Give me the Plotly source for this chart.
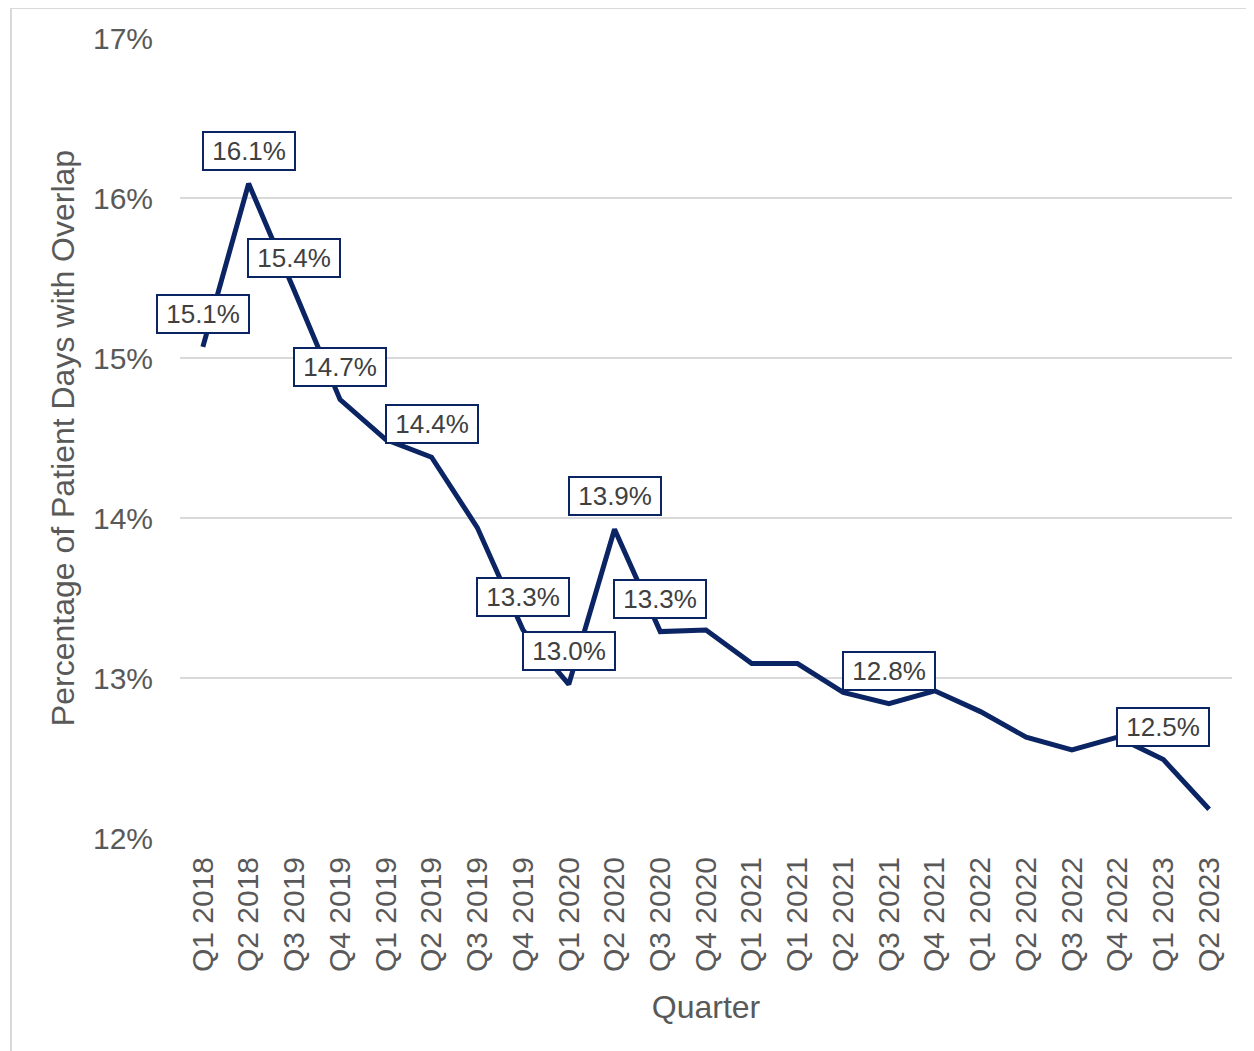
import plotly.graph_objects as go

quarters = ["Q1 2018", "Q2 2018", "Q3 2019", "Q4 2019", "Q1 2019", "Q2 2019",
            "Q3 2019", "Q4 2019", "Q1 2020", "Q2 2020", "Q3 2020", "Q4 2020",
            "Q1 2021", "Q1 2021", "Q2 2021", "Q3 2021", "Q4 2021", "Q1 2022",
            "Q2 2022", "Q3 2022", "Q4 2022", "Q1 2023", "Q2 2023"]
values = [15.07, 16.09, 15.42, 14.74, 14.49, 14.38, 13.94, 13.30, 12.96, 13.93,
          13.29, 13.30, 13.09, 13.09, 12.91, 12.84, 12.92, 12.79, 12.63, 12.55,
          12.63, 12.49, 12.18]
labeled_idx = [0, 1, 2, 3, 5, 7, 8, 9, 10, 15, 21]
label_text = ["15.1%", "16.1%", "15.4%", "14.7%", "14.4%", "13.3%", "13.0%",
              "13.9%", "13.3%", "12.8%", "12.5%"]
y_ticks = [12, 13, 14, 15, 16, 17]

NAVY = "#0B2463"
GRAY = "#595959"
FONT = "Liberation Sans, Arial, sans-serif"

# page body adds an 8px offset at top/left; compensate in figure size / margins
OFF = 8
W, H = 1254 - OFF, 1051 - OFF
L, R, T, B = 180 - OFF, 22, 38 - OFF, 213
PW, PH = W - L - R, H - T - B

x_idx = list(range(len(quarters)))

fig = go.Figure()
fig.add_trace(go.Scatter(
    x=x_idx, y=values, mode="lines",
    line=dict(color=NAVY, width=5),
    hoverinfo="skip", showlegend=False,
))

THIN = "\u2009"
for i, t in zip(labeled_idx, label_text):
    fig.add_annotation(
        x=i, y=values[i], xref="x", yref="y", text=THIN + t + THIN, showarrow=False,
        yshift=33, font=dict(family=FONT, size=26, color="#404040"),
        bgcolor="white", bordercolor=NAVY, borderwidth=2, borderpad=3,
    )

fig.add_shape(type="rect", xref="paper", yref="paper",
              x0=(11 - OFF - L) / PW, x1=(1252 - OFF - L) / PW,
              y0=-(B + 20) / PH, y1=(PH + T) / PH,
              line=dict(color="#d9d9d9", width=2), fillcolor="rgba(0,0,0,0)",
              layer="below")

fig.update_layout(
    width=W, height=H,
    margin=dict(l=L, r=R, t=T, b=B),
    paper_bgcolor="white", plot_bgcolor="white",
    font=dict(family=FONT, color=GRAY),
    xaxis=dict(
        tickmode="array", tickvals=x_idx, ticktext=quarters,
        range=[-0.5, len(quarters) - 0.5], tickangle=-90,
        showgrid=False, zeroline=False, showline=False, ticks="",
        ticklabelstandoff=12,
        tickfont=dict(family=FONT, size=30, color=GRAY),
        title=dict(text="Quarter", font=dict(family=FONT, size=32, color=GRAY), standoff=24),
    ),
    yaxis=dict(
        range=[12, 17], tickvals=y_ticks, ticktext=[f"{v}%" for v in y_ticks],
        showgrid=True, gridcolor="#d9d9d9", gridwidth=2, zeroline=False,
        showline=False, ticks="", ticklabelstandoff=26,
        tickfont=dict(family=FONT, size=30, color=GRAY),
        title=dict(text="Percentage of Patient Days with Overlap",
                   font=dict(family=FONT, size=32, color=GRAY), standoff=8),
    ),
)

fig.write_html("out.html")
